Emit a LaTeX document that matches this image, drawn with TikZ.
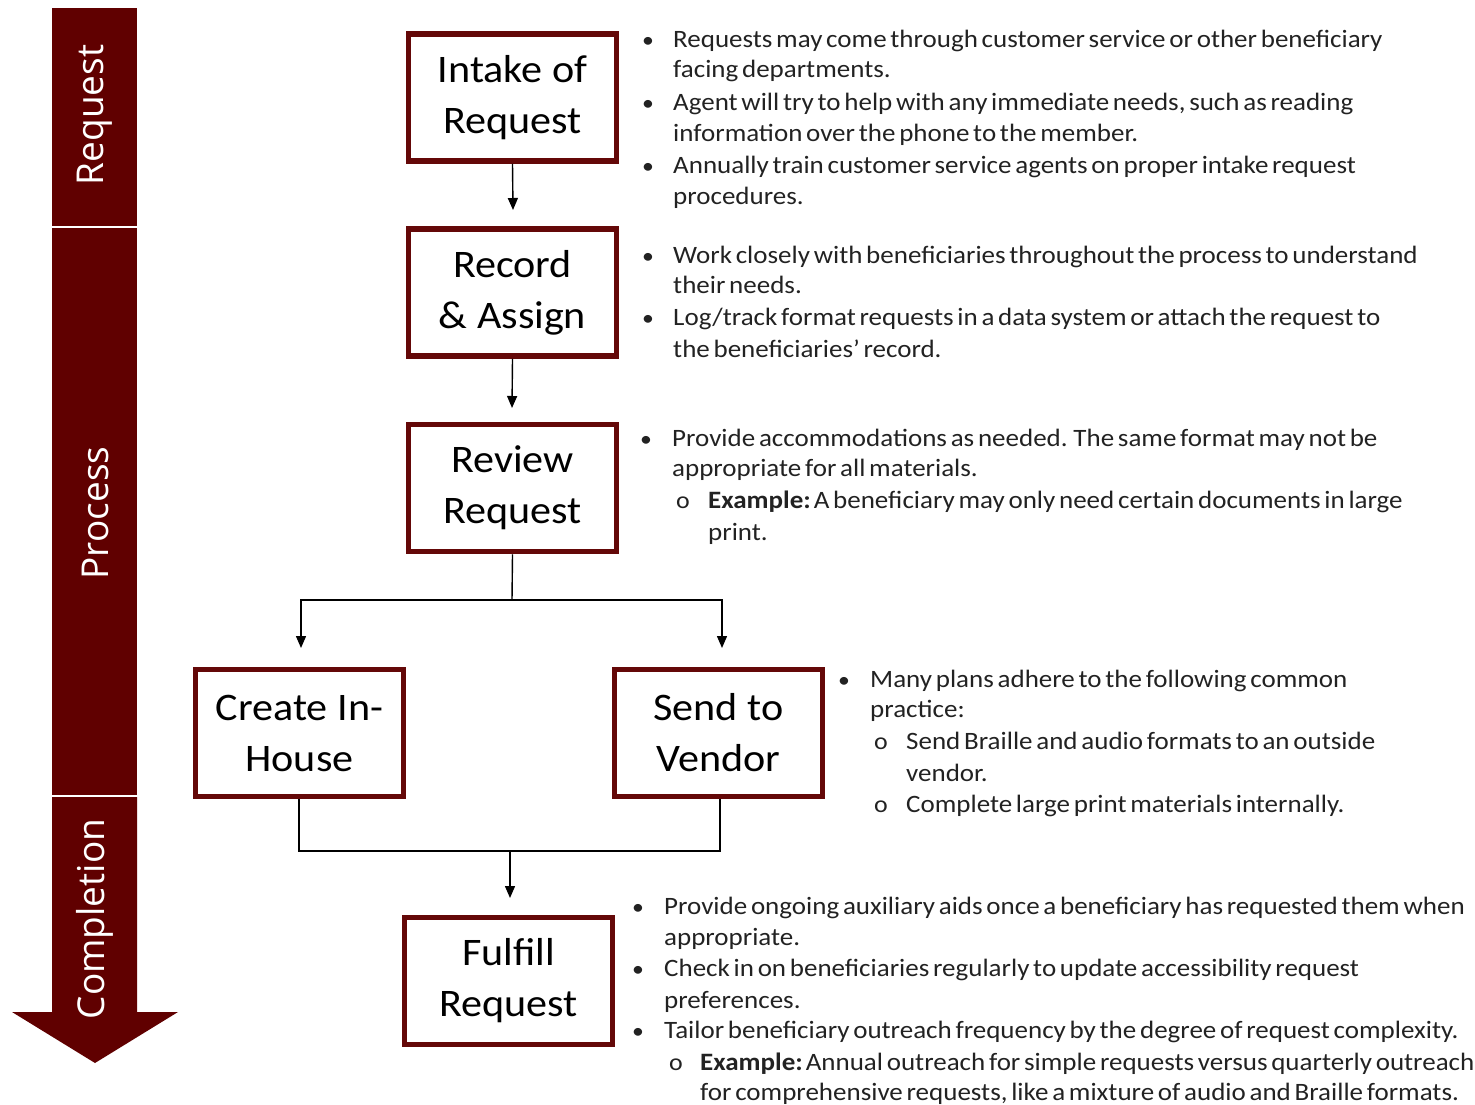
\documentclass[tikz,border=0pt]{standalone}
\usepackage{fontspec}
\setmainfont[FakeStretch=1.08]{Carlito}
\newfontfamily\bandfont{Open Sans}
\usetikzlibrary{arrows.meta}
\definecolor{maroon}{HTML}{600000}
\definecolor{boxred}{HTML}{640808}
\definecolor{txtgray}{HTML}{222222}
\newcommand{\tightsp}{\spaceskip=0.15em plus 0.05em\relax}
\tikzset{
  stepbox/.style={draw=boxred, line width=5.5pt, fill=white, minimum width=208pt, minimum height=127pt, align=center, inner sep=0pt, font=\fontsize{39}{51}\selectfont, text=black},
  conn/.style={line width=1.4pt, draw=black},
  arr/.style={conn, -{Triangle[width=10pt,length=12pt]}},
  txt/.style={anchor=base west, inner sep=0pt, font=\fontsize{25}{31}\selectfont\tightsp, text=txtgray},
  bul/.style={anchor=base west, inner sep=0pt, font=\fontsize{22}{31}\selectfont, text=txtgray},
  bandlbl/.style={rotate=90, text=white, font=\bandfont\fontsize{37}{40}\selectfont, inner sep=0pt}
}
\newcommand{\tl}[4]{\node[txt] (#1) at (#2,#3) {#4};}
\newcommand{\bu}[3]{\node[bul] (#1) at (#2,#3) {\textbullet};}
\newcommand{\so}[3]{\node[bul] (#1) at (#2,#3) {\fontsize{24}{24}\selectfont o};}
\begin{document}
\begin{tikzpicture}[x=1pt,y=-1pt]
\useasboundingbox (0,0) rectangle (1475,1105);
% band
\fill[maroon] (52,8) rectangle (137,226);
\fill[maroon] (52,228) rectangle (137,795);
\fill[maroon] (52,797) -- (137,797) -- (137,1012) -- (178,1012) -- (95,1063) -- (12,1012) -- (52,1012) -- cycle;
\node[bandlbl] (lreq) at (95,115) {Request};
\node[bandlbl] (lproc) at (95,513) {Process};
\node[bandlbl] (lcomp) at (95,919) {Completion};
% boxes
\node[stepbox] (intake) at (512.5,97.5) {Intake of\\Request};
\node[stepbox] (record) at (512.5,292.5) {Record\\\& Assign};
\node[stepbox] (review) at (512.5,488) {Review\\Request};
\node[stepbox] (create) at (299.5,733) {Create In-\\House};
\node[stepbox] (send) at (718.5,733) {Send to\\Vendor};
\node[stepbox] (fulfill) at (508.5,981) {Fulfill\\Request};
% connectors
\coordinate (a1) at (513,210);
\draw[arr] (intake.south) -- (a1);
\coordinate (a2) at (512,408);
\draw[arr] (record.south) -- (a2);
\coordinate (s0) at (512,600);
\coordinate (sl) at (301,600);
\coordinate (sr) at (722,600);
\coordinate (tl) at (301,648);
\coordinate (tr) at (722,648);
\draw[conn] (review.south) -- (s0);
\draw[arr] (s0) -- (sl) -- (tl);
\draw[arr] (s0) -- (sr) -- (tr);
\coordinate (jl) at (299,851);
\coordinate (jr) at (720,851);
\coordinate (jm) at (510,851);
\coordinate (jt) at (510,898);
\draw[conn] (create.south -| jl) -- (jl) -- (jr) -- (send.south -| jr);
\draw[arr] (jm) -- (jt);
% block 1
\bu{b11}{642}{48}\tl{t11}{673}{48}{Requests may come through customer service or other beneficiary}
\tl{t12}{673}{78}{facing departments.}
\bu{b12}{642}{111}\tl{t13}{673}{111}{Agent will try to help with any immediate needs, such as reading}
\tl{t14}{673}{142}{information over the phone to the member.}
\bu{b13}{642}{173}\tl{t15}{673}{173}{Annually train customer service agents on proper intake request}
\tl{t16}{673}{204}{procedures.}
% block 2
\bu{b21}{642}{263}\tl{t21}{673}{263}{Work closely with beneficiaries throughout the process to understand}
\tl{t22}{673}{293}{their needs.}
\bu{b22}{642}{325}\tl{t23}{673}{325}{Log/track format requests in a data system or attach the request to}
\tl{t24}{673}{357}{the beneficiaries’ record.}
% block 3
\bu{b31}{640}{446}\tl{t31}{672}{446}{Provide accommodations as needed. The same format may not be}
\tl{t32}{672}{476}{appropriate for all materials.}
\so{s31}{676}{508}\tl{t33}{708}{508}{\textbf{Example:}\hspace{3pt}A beneficiary may only need certain documents in large}
\tl{t34}{708}{540}{print.}
% block 4
\bu{b41}{838}{687}\tl{t41}{870}{687}{Many plans adhere to the following common}
\tl{t42}{870}{717}{practice:}
\so{s41}{874}{749}\tl{t43}{906}{749}{Send Braille and audio formats to an outside}
\tl{t44}{906}{781}{vendor.}
\so{s42}{874}{812}\tl{t45}{906}{812}{Complete large print materials internally.}
% block 5
\bu{b51}{632}{914}\tl{t51}{664}{914}{Provide ongoing auxiliary aids once a beneficiary has requested them when}
\tl{t52}{664}{945}{appropriate.}
\bu{b52}{632}{976}\tl{t53}{664}{976}{Check in on beneficiaries regularly to update accessibility request}
\tl{t54}{664}{1008}{preferences.}
\bu{b53}{632}{1038}\tl{t55}{664}{1038}{Tailor beneficiary outreach frequency by the degree of request complexity.}
\so{s51}{669}{1070}\tl{t56}{700}{1070}{\textbf{Example:}\hspace{3pt}Annual outreach for simple requests versus quarterly outreach}
\tl{t57}{700}{1100}{for comprehensive requests, like a mixture of audio and Braille formats.}
\end{tikzpicture}
\end{document}
